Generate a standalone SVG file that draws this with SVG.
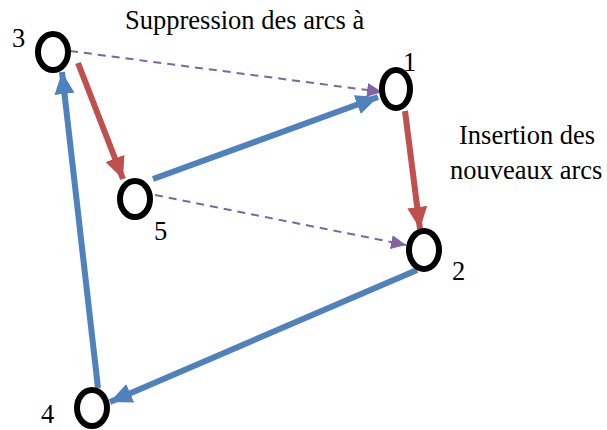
<svg xmlns="http://www.w3.org/2000/svg" width="607" height="430" viewBox="0 0 607 430">
<style>
.node{fill:none;stroke:#000;stroke-width:6}
.t{font-family:"Liberation Serif",serif;font-size:26.5px;fill:#000}
.red{stroke:#C0504D;stroke-width:6;fill:none}
.blue{stroke:#4F81BD;stroke-width:6;fill:none}
.pur{stroke:#8064A2;stroke-width:2;stroke-dasharray:8,6;fill:none}
</style>
<defs>
<marker id="ar" markerUnits="userSpaceOnUse" markerWidth="24" markerHeight="20" refX="22" refY="10" orient="auto"><path d="M0,0 L22,10 L0,20 Z" fill="#C0504D"/></marker>
<marker id="ab" markerUnits="userSpaceOnUse" markerWidth="24" markerHeight="20" refX="22" refY="10" orient="auto"><path d="M0,0 L22,10 L0,20 Z" fill="#4F81BD"/></marker>
<marker id="ap" markerUnits="userSpaceOnUse" markerWidth="16" markerHeight="14" refX="15" refY="7" orient="auto"><path d="M0,0 L15,7 L0,14 Z" fill="#8064A2"/></marker>
</defs>
<g id="connectors">
<line class="pur" x1="70" y1="51" x2="382" y2="92" marker-end="url(#ap)"/>
<line class="pur" x1="155" y1="195" x2="406" y2="245" marker-end="url(#ap)"/>
<line class="red" x1="78" y1="63" x2="123" y2="179" marker-end="url(#ar)"/>
<line class="red" x1="405" y1="111" x2="420" y2="229" marker-end="url(#ar)"/>
<line class="blue" x1="153" y1="179" x2="378" y2="97" marker-end="url(#ab)"/>
<line class="blue" x1="417" y1="270" x2="110" y2="402" marker-end="url(#ab)"/>
<line class="blue" x1="98" y1="388" x2="62" y2="72" marker-end="url(#ab)"/>
</g>
<g id="n3"><ellipse class="node" cx="53" cy="52" rx="15" ry="18"/><text class="t" x="12" y="47">3</text></g>
<g id="n1"><ellipse class="node" cx="396" cy="89" rx="14" ry="19"/><text class="t" x="403" y="71">1</text></g>
<g id="n2"><ellipse class="node" cx="424" cy="250" rx="15" ry="19"/><text class="t" x="452" y="280">2</text></g>
<g id="n5"><ellipse class="node" cx="135" cy="199" rx="15" ry="18"/><text class="t" x="154" y="240">5</text></g>
<g id="n4"><ellipse class="node" cx="92" cy="408" rx="15" ry="18"/><text class="t" x="41" y="423">4</text></g>
<g id="labels">
<text class="t" x="125" y="29">Suppression des arcs à</text>
<text class="t" x="459" y="144">Insertion des</text>
<text class="t" x="450" y="179">nouveaux arcs</text>
</g>
</svg>
